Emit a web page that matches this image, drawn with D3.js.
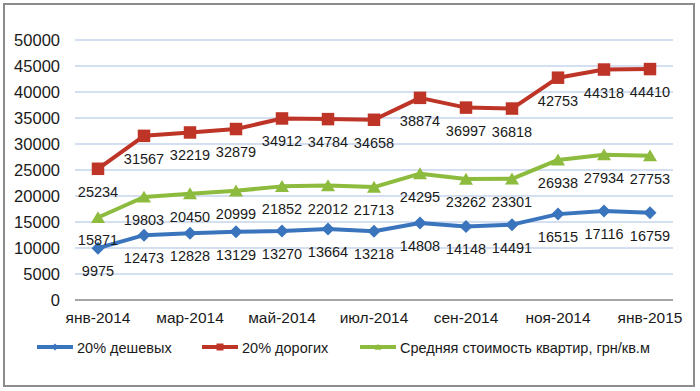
<html>
<head>
  <meta charset="utf-8">
  <script src="https://cdnjs.cloudflare.com/ajax/libs/d3/7.8.5/d3.min.js"></script>
  <style>body { margin: 0; background: #fff }</style>
</head>
<body>
  <div id="chart"></div>
  <script>
    const months = ['янв-2014', 'фев-2014', 'мар-2014', 'апр-2014', 'май-2014', 'июн-2014', 'июл-2014',
      'авг-2014', 'сен-2014', 'окт-2014', 'ноя-2014', 'дек-2014', 'янв-2015'];
    const cheap = [9975, 12473, 12828, 13129, 13270, 13664, 13218, 14808, 14148, 14491, 16515, 17116, 16759];
    const expensive = [25234, 31567, 32219, 32879, 34912, 34784, 34658, 38874, 36997, 36818, 42753, 44318, 44410];
    const average = [15871, 19803, 20450, 20999, 21852, 22012, 21713, 24295, 23262, 23301, 26938, 27934, 27753];
    const yTicks = [0, 5000, 10000, 15000, 20000, 25000, 30000, 35000, 40000, 45000, 50000];
    const seriesNames = ['20% дешевых', '20% дорогих', 'Средняя стоимость квартир, грн/кв.м'];

    const width = 700, height = 391;
    const FONT = 'Liberation Sans, Arial, sans-serif';

    const svg = d3.select('#chart').append('svg')
      .attr('width', width)
      .attr('height', height)
      .style('font-family', FONT);

    svg.append('rect')
      .attr('x', 4).attr('y', 4)
      .attr('width', 690).attr('height', 382)
      .attr('fill', '#fff')
      .attr('stroke', '#8c8c8c')
      .attr('stroke-width', 2);

    const x = d3.scalePoint()
      .domain(months)
      .range([75, 673])
      .padding(0.5);

    const y = d3.scaleLinear()
      .domain([0, 50000])
      .range([300, 40]);

    // grid
    svg.append('g').selectAll('line')
      .data(yTicks)
      .join('line')
      .attr('x1', 75).attr('x2', 673)
      .attr('y1', d => y(d)).attr('y2', d => y(d))
      .attr('stroke', d => d === 0 ? '#8a8a8a' : '#a9c0e4')
      .attr('stroke-width', d => d === 0 ? 1.5 : 1.2);

    // y axis labels
    svg.append('g').selectAll('text')
      .data(yTicks)
      .join('text')
      .attr('x', 60)
      .attr('y', d => y(d) + 6)
      .attr('text-anchor', 'end')
      .attr('font-size', 16.5)
      .attr('fill', '#1a1a1a')
      .text(d => d);

    // x axis labels (every other month)
    svg.append('g').selectAll('text')
      .data(months.filter((m, i) => i % 2 === 0))
      .join('text')
      .attr('x', d => x(d))
      .attr('y', 323)
      .attr('text-anchor', 'middle')
      .attr('font-size', 15.5)
      .attr('fill', '#1a1a1a')
      .text(d => d);

    const series = [
      { name: seriesNames[0], values: cheap, color: '#3a74bd', marker: 'diamond' },
      { name: seriesNames[1], values: expensive, color: '#be3427', marker: 'square' },
      { name: seriesNames[2], values: average, color: '#8dbb3d', marker: 'triangle' }
    ];

    const line = d3.line()
      .x((d, i) => x(months[i]))
      .y(d => y(d));

    function markerPath(type, s) {
      if (type === 'square') return `M${-s/2},${-s/2}h${s}v${s}h${-s}Z`;
      if (type === 'diamond') return `M0,${-s/2}L${s/2},0L0,${s/2}L${-s/2},0Z`;
      return `M0,${-s*0.45}L${s/2},${s*0.4}L${-s/2},${s*0.4}Z`;
    }
    const markerSize = { square: 12.5, diamond: 13, triangle: 14 };

    series.forEach(s => {
      const g = svg.append('g');
      g.append('path')
        .datum(s.values)
        .attr('fill', 'none')
        .attr('stroke', s.color)
        .attr('stroke-width', 4)
        .attr('stroke-linejoin', 'round')
        .attr('d', line);

      g.selectAll('path.mk')
        .data(s.values)
        .join('path')
        .attr('class', 'mk')
        .attr('transform', (d, i) => `translate(${x(months[i])},${y(d)})`)
        .attr('fill', s.color)
        .attr('d', markerPath(s.marker, markerSize[s.marker]));

      g.selectAll('text')
        .data(s.values)
        .join('text')
        .attr('x', (d, i) => x(months[i]))
        .attr('y', d => y(d) + 28)
        .attr('text-anchor', 'middle')
        .attr('font-size', 14.5)
        .attr('fill', '#1a1a1a')
        .text(d => d);
    });

    // legend
    const legendX = [37, 202, 360];
    const legend = svg.append('g');
    series.forEach((s, i) => {
      const lg = legend.append('g').attr('transform', `translate(${legendX[i]},347)`);
      lg.append('line')
        .attr('x1', 0).attr('x2', 36)
        .attr('stroke', s.color)
        .attr('stroke-width', 4);
      lg.append('path')
        .attr('transform', 'translate(18,0)')
        .attr('fill', s.color)
        .attr('d', markerPath(s.marker, 7));
      lg.append('text')
        .attr('x', 40)
        .attr('y', 5.5)
        .attr('font-size', 14.5)
        .attr('fill', '#1a1a1a')
        .text(s.name);
    });
  </script>
</body>
</html>
